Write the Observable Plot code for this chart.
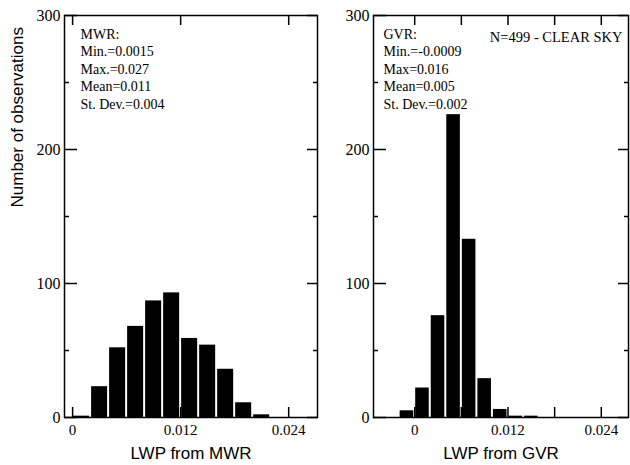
<!DOCTYPE html>
<html>
<head>
<meta charset="utf-8">
<script src="https://cdn.jsdelivr.net/npm/d3@7"></script>
<script src="https://cdn.jsdelivr.net/npm/@observablehq/plot@0.6"></script>
<style>
  html, body { margin: 0; padding: 0; background: #fff; }
  #chart { display: flex; width: 630px; height: 465px; }
  #chart svg { display: block; }
</style>
</head>
<body>
<div id="chart"></div>
<script>
// ---- data ----
const binStart = [-0.002, 0, 0.002, 0.004, 0.006, 0.008, 0.010, 0.012, 0.014, 0.016, 0.018, 0.020, 0.022];
const binWidth = 0.002;
const mwrCounts = [0, 1, 23, 52, 68, 87, 93, 59, 54, 36, 11, 2, 0];
const gvrCounts = [5, 22, 76, 226, 133, 29, 6, 1, 1, 0, 0, 0, 0];
const mwrStats = ["MWR:", "Min.=0.0015", "Max.=0.027", "Mean=0.011", "St. Dev.=0.004"];
const gvrStats = ["GVR:", "Min.=-0.0009", "Max=0.016", "Mean=0.005", "St. Dev.=0.002"];
const sampleNote = "N=499 - CLEAR SKY";
const yTitle = "Number of observations";
const xTitles = ["LWP from MWR", "LWP from GVR"];
const yTicks = [0, 100, 200, 300];
const yMinorTicks = [50, 150, 250];
const xLabelTicks = [0, 0.012, 0.024];
const leftXTicks = [0, 0.012, 0.024];
const rightXTicks = [0, 0.006, 0.012, 0.018, 0.024];

const SERIF = "Liberation Serif, Times New Roman, serif";
const SANS = "Liberation Sans, Arial, sans-serif";
const HEIGHT = 465, MT = 15, MB = 48;

function rows(counts) {
  return binStart.map((s, i) => ({x1: s, x2: s + binWidth, n: counts[i]}));
}
const fmtX = d => d === 0 ? "0" : d.toFixed(3);

function panel({counts, width, marginLeft, marginRight, xDomain, xTicks, stats, statsDx, title, showYTitle, note}) {
  const fw = width - marginLeft - marginRight;   // frame width (px)
  const fh = HEIGHT - MT - MB;                   // frame height (px)
  const tk = {stroke: "black", strokeWidth: 1.5};
  const marks = [
    Plot.rectY(rows(counts), {x1: "x1", x2: "x2", y: "n", fill: "black", insetLeft: 1, insetRight: 1}),
    Plot.frame({stroke: "black", strokeWidth: 1.5}),
    // inward ticks on all four sides
    Plot.tickY(yTicks, {y: d => d, insetRight: fw - 13, ...tk}),
    Plot.tickY(yMinorTicks, {y: d => d, insetRight: fw - 5, ...tk}),
    Plot.tickY(yTicks, {y: d => d, insetLeft: fw - 10, ...tk}),
    Plot.tickY(yMinorTicks, {y: d => d, insetLeft: fw - 4, ...tk}),
    Plot.tickX(xTicks, {x: d => d, insetBottom: fh - 10, ...tk}),
    Plot.tickX(xTicks, {x: d => d, insetTop: fh - 10, ...tk}),
    // tick labels
    Plot.axisY({ticks: yTicks, tickSize: 0, tickPadding: 4, fontSize: 16, fontFamily: SERIF, label: null}),
    Plot.axisX({ticks: xLabelTicks, tickSize: 0, tickPadding: 7, fontSize: 15, fontFamily: SERIF, tickFormat: fmtX, label: null}),
    Plot.text([stats.join("\n")], {frameAnchor: "top-left", textAnchor: "start", lineAnchor: "top", dx: statsDx, dy: 11, lineHeight: 1.25, fontSize: 14, fontFamily: SERIF}),
    Plot.text([title], {frameAnchor: "bottom", lineAnchor: "middle", dy: 36, fontSize: 17, fontFamily: SANS})
  ];
  if (showYTitle) {
    marks.push(Plot.text([yTitle], {frameAnchor: "left", rotate: -90, dx: -47, dy: -9, fontSize: 17, fontFamily: SANS}));
  }
  if (note) {
    marks.push(Plot.text([note], {frameAnchor: "top-right", textAnchor: "end", lineAnchor: "top", dx: -6, dy: 16, fontSize: 14.5, fontFamily: SERIF}));
  }
  return Plot.plot({
    width, height: HEIGHT,
    marginTop: MT, marginBottom: MB, marginLeft, marginRight,
    style: {fontFamily: SERIF, background: "white", color: "black", overflow: "visible"},
    x: {domain: xDomain, axis: null},
    y: {domain: [0, 300], axis: null},
    marks
  });
}

const left = panel({counts: mwrCounts, width: 320, marginLeft: 64, marginRight: 3,
  xDomain: [-0.0009, 0.0272], xTicks: leftXTicks, stats: mwrStats, statsDx: 16, title: xTitles[0], showYTitle: true});
const right = panel({counts: gvrCounts, width: 310, marginLeft: 53, marginRight: 2,
  xDomain: [-0.0053, 0.0275], xTicks: rightXTicks, stats: gvrStats, statsDx: 10, title: xTitles[1], note: sampleNote});

document.getElementById("chart").append(left, right);
</script>
</body>
</html>
